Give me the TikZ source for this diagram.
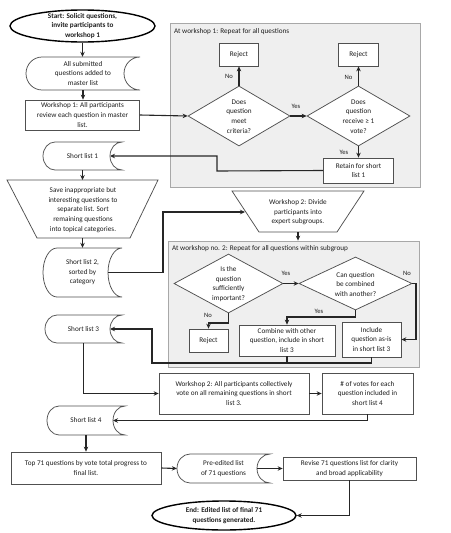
\documentclass[tikz,border=0pt]{standalone}
\usepackage{fontspec}
\setmainfont{Carlito}
\usetikzlibrary{shapes.geometric,arrows.meta}
\definecolor{panelfill}{HTML}{EFEFEF}
\definecolor{paneldraw}{HTML}{A8A8A8}
\definecolor{boxdraw}{HTML}{505050}
\definecolor{txt}{HTML}{1E1E1E}
\definecolor{lin}{HTML}{262626}
\newcommand{\sdata}[7]{% name, cx, cy, w, h, rx, text
  \draw[sdshape] ({#2-#4/2+#6},{#3-#5/2}) -- ({#2+#4/2},{#3-#5/2})
    arc[start angle=270, end angle=90, x radius=#6, y radius=#5/2]
    -- ({#2-#4/2+#6},{#3+#5/2})
    arc[start angle=90, end angle=270, x radius=#6, y radius=#5/2] -- cycle;
  \node[minimum width=#4, minimum height=#5] (#1) at (#2,#3) {#7};
  \coordinate (#1-in) at ({#2+#4/2-#6},#3);
}
\begin{document}
\begin{tikzpicture}[x=1pt,y=-1pt,
  every node/.style={font=\fontsize{7.2}{9.6}\selectfont, align=center, inner sep=0pt, text=txt},
  box/.style={draw=boxdraw, line width=0.75pt, fill=white, rectangle},
  sdshape/.style={draw=boxdraw, line width=0.75pt, fill=white},
  dia/.style={diamond, draw=boxdraw, line width=0.75pt, fill=white},
  panel/.style={draw=paneldraw, line width=0.8pt, fill=panelfill, rectangle},
  oval/.style={ellipse, draw=black, line width=1.4pt, fill=white},
  conn/.style={draw=lin, line width=1.1pt, -{Stealth[length=5pt,width=4.5pt]}},
  plain/.style={draw=lin, line width=1.1pt},
  lab/.style={font=\fontsize{6.6}{8}\selectfont},
  ]
\useasboundingbox (0,0) rectangle (450,533);

% panels
\node[panel, minimum width=250, minimum height=164] (p1) at (295,105) {};
\node[anchor=west] (p1lab) at (174,32) {At workshop 1: Repeat for all questions};
\node[panel, minimum width=251, minimum height=126] (p2) at (293.5,304) {};
\node[anchor=west] (p2lab) at (172,249) {At workshop no. 2: Repeat for all questions within subgroup};

% start
\node[oval, minimum width=145, minimum height=32] (start) at (82.5,26) {};
\node[font=\fontsize{7.2}{9.6}\selectfont\bfseries] (startt) at (82.5,26) {Start: Solicit questions,\\invite participants to\\workshop 1};

\sdata{sd0}{83}{73.5}{114}{33}{16}{All submitted\\questions added to\\master list}

\node[box, minimum width=114, minimum height=30] (w1) at (82.5,115) {Workshop 1: All participants\\review each question in master\\list.};

% panel 1 content
\node[dia, minimum width=102, minimum height=60] (d1) at (239,116) {};
\node (d1t) at (239,116.5) {Does\\question\\meet\\criteria?};
\node[dia, minimum width=103, minimum height=60] (d2) at (358.5,116) {};
\node (d2t) at (358.5,116.5) {Does\\question\\receive ≥ 1\\vote?};
\node[box, minimum width=39, minimum height=23] (rej1) at (239,54.5) {Reject};
\node[box, minimum width=40, minimum height=23] (rej2) at (358.5,54.5) {Reject};
\node[box, minimum width=70, minimum height=25] (ret) at (358.5,170.5) {Retain for short\\list 1};

\sdata{sl1}{82.5}{156}{79}{28}{12}{Short list 1}

% trapezium 1
\draw[box] (7,180) -- (158,180) -- (130,238) -- (37,238) -- cycle;
\node (t1) at (83,210) {Save inappropriate but\\interesting questions to\\separate list. Sort\\remaining questions\\into topical categories.};
\coordinate (t1top) at (82.5,180);
\coordinate (t1bot) at (82.5,238);

\sdata{sl2}{82.5}{272.5}{79}{49}{14}{Short list 2,\\sorted by\\category}

% trapezium 2
\draw[box] (232,191) -- (364,191) -- (337,232) -- (259,232) -- cycle;
\node (t2) at (298,212.5) {Workshop 2: Divide\\participants into\\expert subgroups.};
\coordinate (t2left) at (245,212);
\coordinate (t2bot) at (298,232);

% panel 2 content
\node[dia, minimum width=109, minimum height=59] (d3) at (228.5,283.5) {};
\node (d3t) at (228.5,284) {Is the\\question\\sufficiently\\important?};
\node[dia, minimum width=113, minimum height=53] (d4) at (355.5,283.5) {};
\node (d4t) at (355.5,284.5) {Can question\\be combined\\with another?};
\node[box, minimum width=39, minimum height=23] (rej3) at (208.5,340.5) {Reject};
\node[box, minimum width=96, minimum height=31] (comb) at (287,340.5) {Combine with other\\question, include in short\\list 3};
\node[box, minimum width=59, minimum height=35] (incl) at (371.5,339.5) {Include\\question as-is\\in short list 3};

\sdata{sl3}{83.5}{329}{77}{28}{12}{Short list 3}

\node[box, minimum width=150, minimum height=41] (vote) at (234,393.5) {Workshop 2: All participants collectively\\vote on all remaining questions in short\\list 3.};
\node[box, minimum width=91, minimum height=41] (votes) at (367.5,393.5) {\# of votes for each\\question included in\\short list 4};

\sdata{sl4}{86}{420.5}{78}{29}{12}{Short list 4}

\node[box, minimum width=150, minimum height=32] (top) at (86,468) {Top 71 questions by vote total progress to\\final list.};
\sdata{pre}{223.5}{468.5}{93}{29}{13}{Pre-edited list\\of 71 questions}
\node[box, minimum width=133, minimum height=23] (rev) at (349.5,468.5) {Revise 71 questions list for clarity\\and broad applicability};

\node[oval, minimum width=144, minimum height=29] (end) at (224,515.5) {};
\node[font=\fontsize{7.2}{9.6}\selectfont\bfseries] (endt) at (224,515.5) {End: Edited list of final 71\\questions generated.};

% connectors
\draw[conn] (start.south) -- (start.south |- sd0.north);
\draw[conn] (sd0.south) -- (sd0.south |- w1.north);
\draw[conn] (w1.east) -- (d1.west);
\draw[conn] (d1.north) -- (rej1.south);
\node[lab] (no1) at (229,76) {No};
\draw[conn] (d1.east) -- (d2.west);
\node[lab] (yes1) at (296,106) {Yes};
\draw[conn] (d2.north) -- (rej2.south);
\node[lab] (no2) at (348.5,77) {No};
\draw[conn] (d2.south) -- (ret.north);
\node[lab] (yes2) at (344,152) {Yes};
\draw[conn] (ret.west) -- (217,171) -- (217,156) -- (sl1-in);
\draw[conn] (sl1.south) -- (t1top);
\draw[conn] (t1bot) -- (sl2.north);
\draw[conn] (sl2-in) -- (163,272.5) -- (163,212) -- (t2left);
\draw[conn] (t2bot) -- (t2bot |- p2.north);
\draw[conn] (d3.east) -- (d4.west);
\node[lab] (yes3) at (286,273) {Yes};
\draw[conn] (d4.east) -- (416,283.5) |- (incl.east);
\node[lab] (no4) at (407,273) {No};
\draw[conn] (d4.south) -- (355.5,317) -| (comb.north);
\node[lab] (yes4) at (319,311) {Yes};
\draw[conn] (d3.south) -- (228.5,323) -| (rej3.north);
\node[lab] (no3) at (208,315) {No};
\draw[plain] (comb.south) -- (287,363);
\draw[conn] (incl.south) -- (371.5,363) -- (152,363) -- (152,329) -- (sl3-in);
\draw[conn] (sl3.south) |- (vote.west);
\draw[conn] (vote.east) -- (votes.west);
\draw[conn] (votes.south) -- (367.5,420.5) -- (sl4-in);
\draw[conn] (sl4.south) -- (top.north);
\draw[conn] (top.east) -- (pre.west);
\draw[conn] (pre-in) -- (rev.west);
\draw[conn] (rev.south) |- (end.east);
\end{tikzpicture}
\end{document}
